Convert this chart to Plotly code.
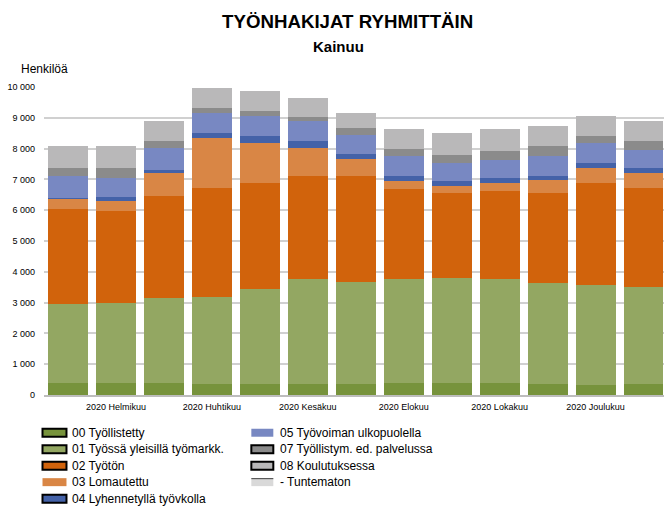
import plotly.graph_objects as go

# ---------------- data ----------------
months = ["2020 Tammikuu", "2020 Helmikuu", "2020 Maaliskuu", "2020 Huhtikuu",
          "2020 Toukokuu", "2020 Kesäkuu", "2020 Heinäkuu", "2020 Elokuu",
          "2020 Syyskuu", "2020 Lokakuu", "2020 Marraskuu", "2020 Joulukuu",
          "2021 Tammikuu"]
tick_months = ["2020 Helmikuu", "2020 Huhtikuu", "2020 Kesäkuu", "2020 Elokuu",
               "2020 Lokakuu", "2020 Joulukuu"]

tyollistetty = [405, 405, 405, 373, 373, 373, 373, 405, 405, 405, 373, 340, 373]
tyossa_yleisilla = [2538, 2593, 2755, 2820, 3079, 3403, 3306, 3371, 3404, 3371, 3274, 3242, 3144]
tyoton = [3102, 2982, 3307, 3533, 3436, 3339, 3436, 2918, 2755, 2853, 2917, 3306, 3209]
lomautettu = [334, 325, 745, 1621, 1297, 908, 551, 259, 227, 259, 421, 486, 486]
lyhennetty = [33, 139, 98, 162, 227, 227, 162, 162, 162, 162, 130, 162, 162]
ulkopuolella = [693, 596, 703, 658, 648, 648, 626, 648, 593, 583, 648, 649, 584]
tyollistym_ed = [269, 334, 237, 152, 162, 129, 217, 227, 250, 292, 325, 227, 292]
koulutuksessa = [714, 714, 648, 658, 648, 616, 486, 649, 713, 714, 648, 648, 648]
tuntematon = [0] * 13

series_names = ["00 Työllistetty", "01 Työssä yleisillä työmarkk.", "02 Työtön",
                "03 Lomautettu", "04 Lyhennetyllä työvkolla", "05 Työvoiman ulkopuolella",
                "07 Työllistym. ed. palvelussa", "08 Koulutuksessa", "- Tuntematon"]
series_values = [tyollistetty, tyossa_yleisilla, tyoton, lomautettu, lyhennetty,
                 ulkopuolella, tyollistym_ed, koulutuksessa, tuntematon]

# ---------------- style ----------------
colors = ["#77933C", "#93A762", "#D1630C", "#D98645", "#4462A8", "#7888C2",
          "#8B8B8B", "#B9B8B9", "#D9D9D9"]
swatch_border = [True, True, True, False, True, False, True, True, False]

FONT = "Arial, Liberation Sans, sans-serif"
W, H = 664, 506
L, T, B = 43.5, 86.5, 111
PW, PH = W - L, H - T - B


def px(x):
    return (x - L) / PW


def py(y):
    return (H - B - y) / PH


fig = go.Figure()
for name, vals, color in zip(series_names, series_values, colors):
    fig.add_trace(go.Bar(x=months, y=vals, name=name, showlegend=False,
                         marker=dict(color=color, line=dict(width=0))))

# ---------------- manual legend (two columns) ----------------
shapes = []
annotations = []
col_x = [(42, 66, 70), (251, 273, 277.5)]
row_y = [432.8, 449.3, 465.8, 482.3, 498.8]
for i, (name, color, border) in enumerate(zip(series_names, colors, swatch_border)):
    col = 0 if i < 5 else 1
    row = i if i < 5 else i - 5
    x0, x1, xt = col_x[col]
    yc = row_y[row]
    shapes.append(dict(type="rect", xref="paper", yref="paper",
                       x0=px(x0), x1=px(x1), y0=py(yc + 4), y1=py(yc - 4),
                       fillcolor=color,
                       line=dict(color="black", width=2 if border else 0)))
    if name == "- Tuntematon":
        shapes.append(dict(type="line", xref="paper", yref="paper",
                           x0=px(x0), x1=px(x1), y0=py(yc - 3.5), y1=py(yc - 3.5),
                           line=dict(color="#404040", width=1)))
    annotations.append(dict(text=name, xref="paper", yref="paper", x=px(xt), y=py(yc),
                            xanchor="left", yanchor="middle", showarrow=False,
                            font=dict(size=12, family=FONT, color="black")))

annotations += [
    dict(text="<b>TYÖNHAKIJAT RYHMITTÄIN</b>", xref="paper", yref="paper", x=px(347),
         y=py(21), xanchor="center", yanchor="middle", showarrow=False,
         font=dict(size=18.7, family=FONT, color="black")),
    dict(text="<b>Kainuu</b>", xref="paper", yref="paper", x=px(338.5),
         y=py(46), xanchor="center", yanchor="middle", showarrow=False,
         font=dict(size=15, family=FONT, color="black")),
    dict(text="Henkilöä", xref="paper", yref="paper", x=px(18),
         y=py(68.5), xanchor="left", yanchor="middle", showarrow=False,
         font=dict(size=12, family=FONT, color="black")),
]

fig.update_layout(
    width=W, height=H,
    barmode="stack", bargap=0.167,
    plot_bgcolor="white", paper_bgcolor="white",
    margin=dict(l=L, r=0, t=T, b=B, autoexpand=False),
    separators=", ",
    showlegend=False,
    font=dict(family=FONT, color="black"),
    xaxis=dict(type="category", categoryorder="array", categoryarray=months,
               range=[-0.5, -0.5 + PW / 48], tickvals=tick_months, ticktext=tick_months,
               tickfont=dict(size=9, family=FONT, color="black"), showgrid=False,
               showline=True, linecolor="#BDBDBD", linewidth=2, ticks="",
               ticklabelstandoff=2),
    yaxis=dict(range=[0, 10000], tickvals=list(range(0, 10001, 1000)), tickformat=",d",
               tickfont=dict(size=9, family=FONT, color="black"), showgrid=True,
               gridcolor="#D0D0D0", gridwidth=1.5, zeroline=False, ticks="",
               ticklabelstandoff=8),
    shapes=shapes,
    annotations=annotations,
)

fig.write_html("out.html", config={"displayModeBar": False},
               post_script="document.body.style.margin='0';document.body.style.overflow='hidden';")
